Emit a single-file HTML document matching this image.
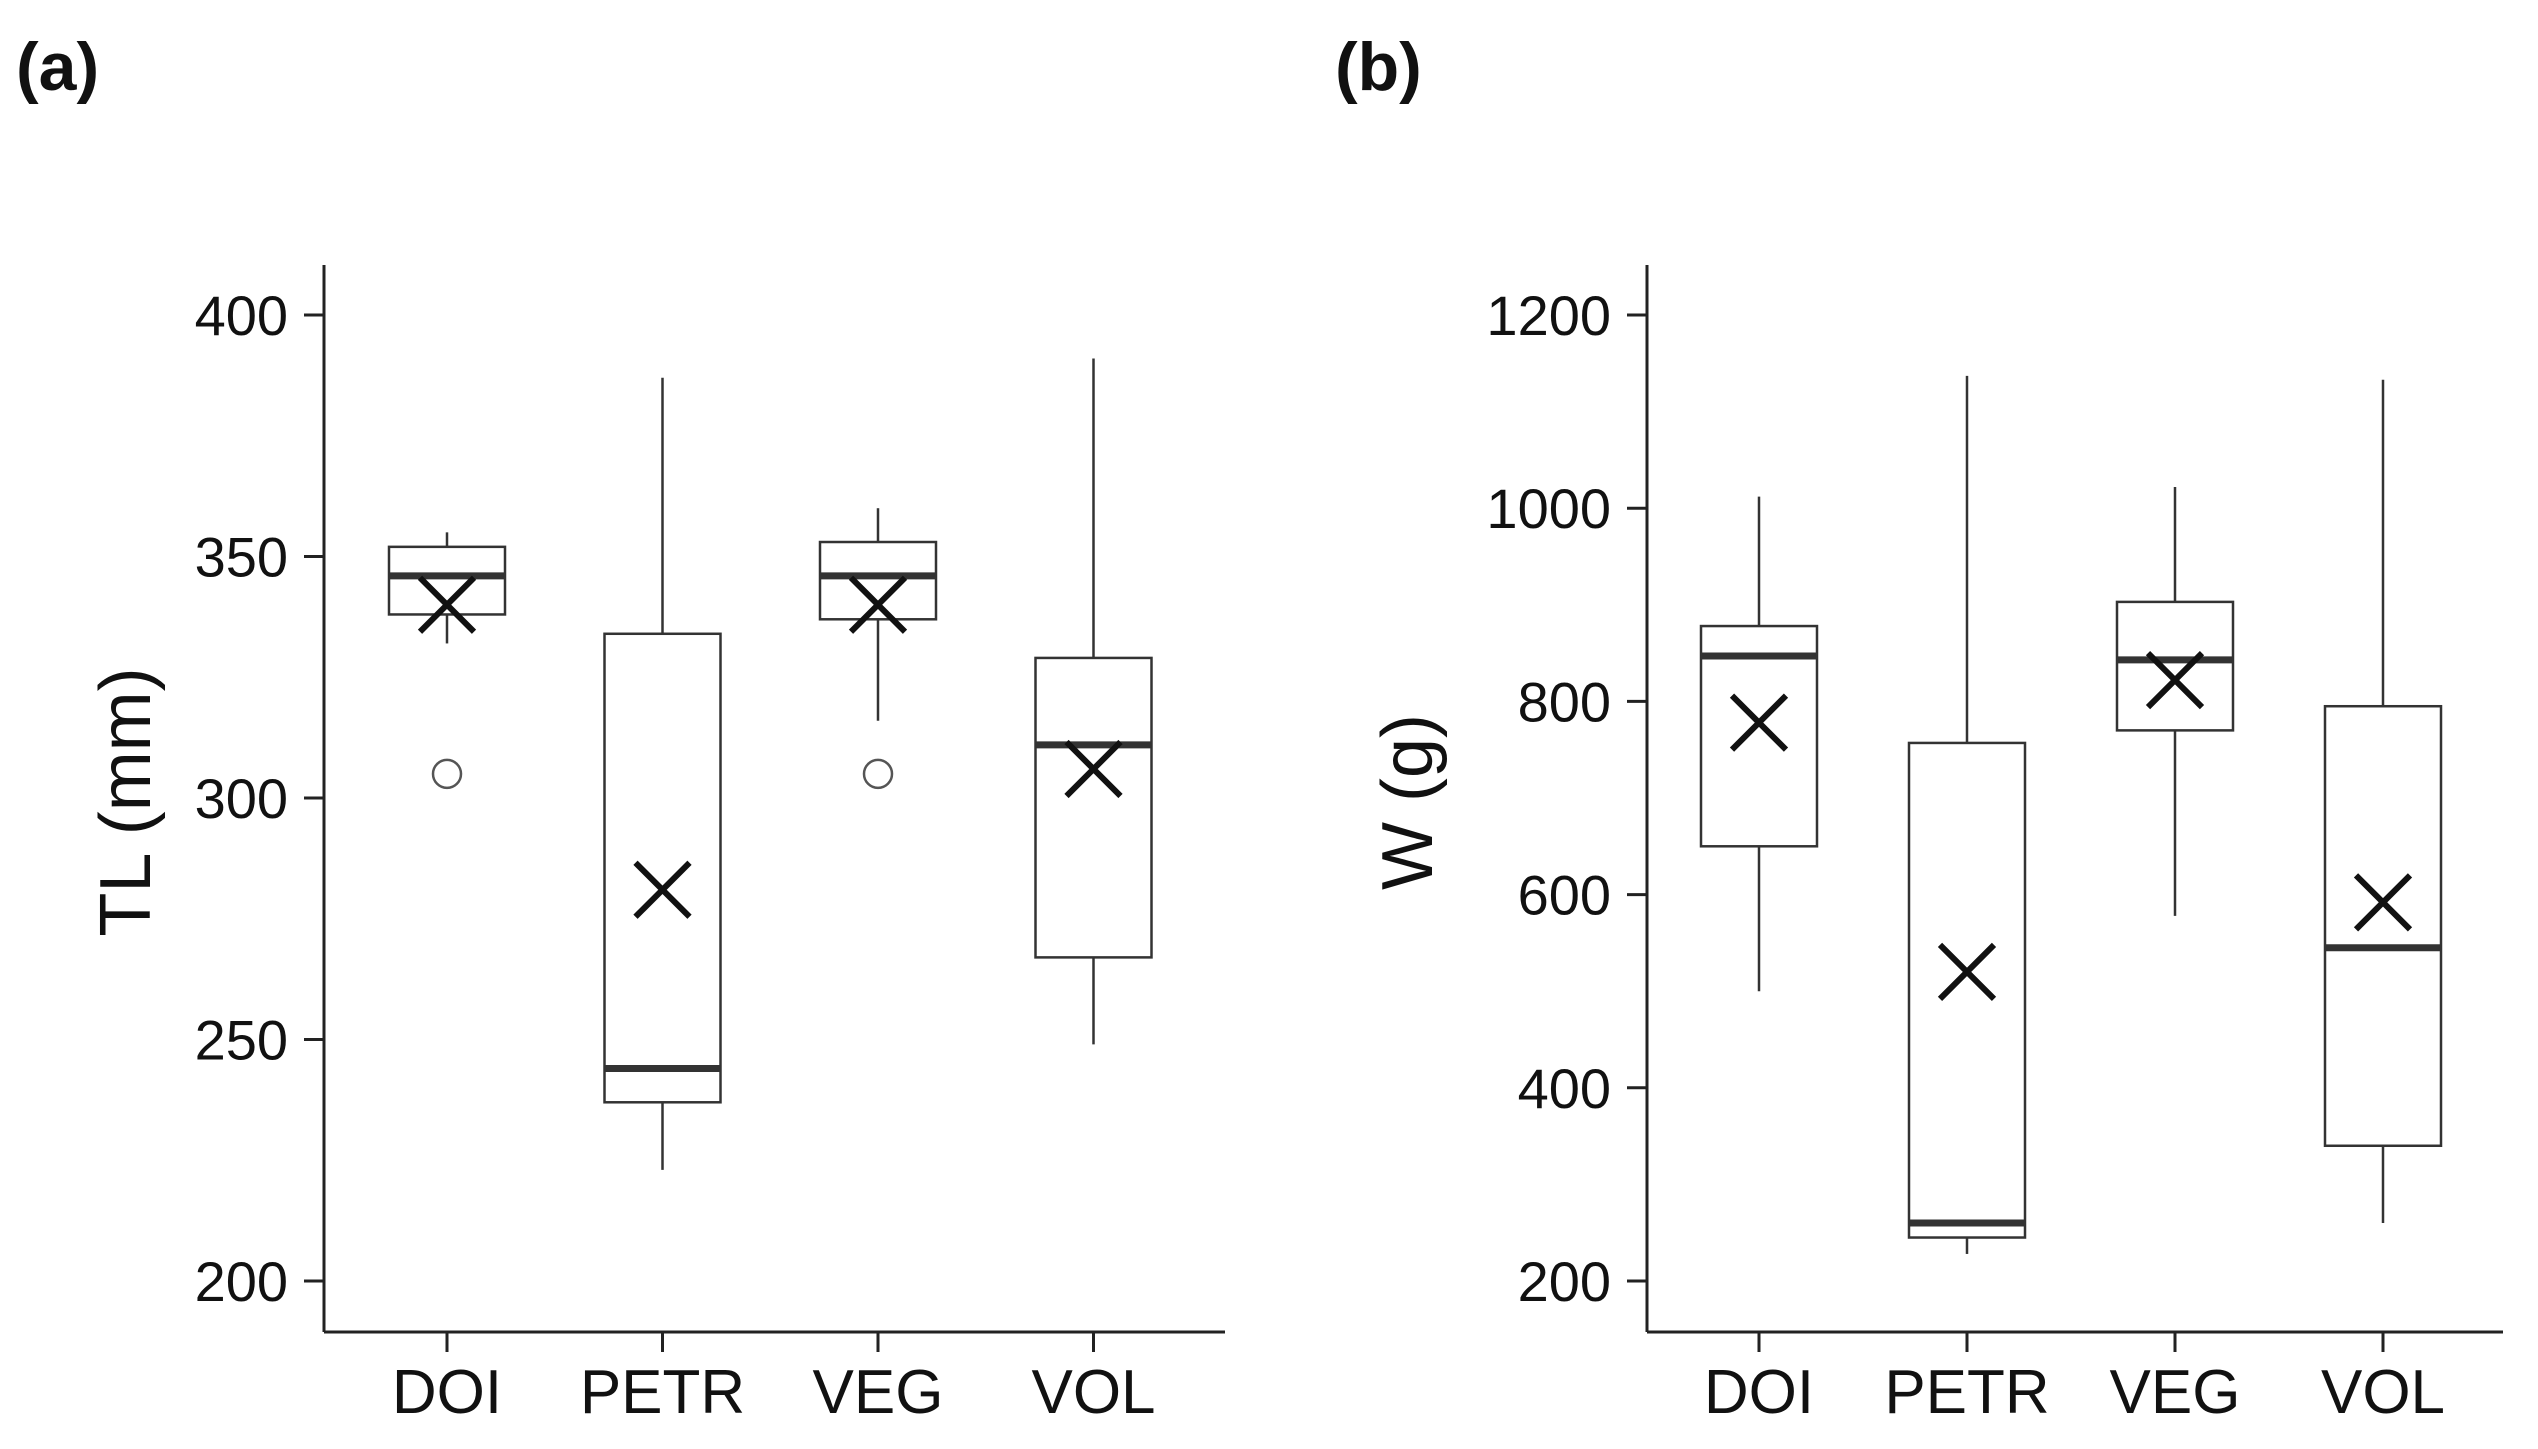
<!DOCTYPE html>
<html><head><meta charset="utf-8"><style>html,body{margin:0;padding:0;background:#fff}svg{display:block}text{font-family:"Liberation Sans",sans-serif;fill:#111}</style></head>
<body>
<svg id="c" width="2538" height="1449" viewBox="0 0 2538 1449"></svg>
<script>
const categories=["DOI","PETR","VEG","VOL"];
const tlMin=[332,223,316,249];
const tlQ1=[338,237,337,267];
const tlMed=[346,244,346,311];
const tlQ3=[352,334,353,329];
const tlMax=[355,387,360,391];
const tlMean=[340,281,340,306];
const tlOutliers=[[305],[],[305],[]];
const tlTicks=[200,250,300,350,400];
const wMin=[500,228,578,260];
const wQ1=[650,245,770,340];
const wMed=[847,260,843,545];
const wQ3=[878,757,903,795];
const wMax=[1012,1137,1022,1133];
const wMean=[778,520,822,592];
const wOutliers=[[],[],[],[]];
const wTicks=[200,400,600,800,1000,1200];
const NS="http://www.w3.org/2000/svg";
const svg=document.getElementById('c');
function mk(tag,attrs,parent,name){const e=document.createElementNS(NS,tag);for(const k in attrs)e.setAttribute(k,attrs[k]);


(parent||svg).appendChild(e);return e;}
function panel(o){
 const g=mk('g',{},svg,o.name);
 const y=v=>o.y0+(v-o.v0)*(o.y1-o.y0)/(o.v1-o.v0);
 const x=i=>o.xs0+i*o.xstep;
 mk('line',{x1:o.ax,y1:265,x2:o.ax,y2:1332,stroke:'#222','stroke-width':3},g,'y-axis-line');
 mk('line',{x1:o.ax,y1:1332,x2:o.axr,y2:1332,stroke:'#222','stroke-width':3},g,'x-axis-line');
 o.ticks.forEach(t=>{mk('line',{x1:o.ax-20,y1:y(t),x2:o.ax,y2:y(t),stroke:'#222','stroke-width':3},g,'y-tick');
  const tx=mk('text',{x:o.ax-36,y:y(t)+20,'font-size':56,'text-anchor':'end'},g,'y-tick-label');tx.textContent=t;});
 const tt=mk('text',{x:0,y:0,'font-size':72,'text-anchor':'middle',transform:`translate(${o.tx},802) rotate(-90)`},g,'y-axis-title');tt.textContent=o.title;
 const pl=mk('text',{x:o.plx,y:90,'font-size':68,'font-weight':'bold'},g,'panel-label');pl.textContent=o.label;
 const hw=58;
 categories.forEach((c,i)=>{const cx=x(i);
  mk('line',{x1:cx,y1:1332,x2:cx,y2:1352,stroke:'#222','stroke-width':3},g,'x-tick');
  const lt=mk('text',{x:cx,y:1413,'font-size':62,'text-anchor':'middle'},g,'x-tick-label');lt.textContent=c;
  mk('line',{x1:cx,y1:y(o.mx[i]),x2:cx,y2:y(o.q3[i]),stroke:'#333','stroke-width':2.5},g,'whisker-upper-'+c.toLowerCase());
  mk('line',{x1:cx,y1:y(o.q1[i]),x2:cx,y2:y(o.mn[i]),stroke:'#333','stroke-width':2.5},g,'whisker-lower-'+c.toLowerCase());
  mk('rect',{x:cx-hw,y:y(o.q3[i]),width:2*hw,height:y(o.q1[i])-y(o.q3[i]),fill:'#fff',stroke:'#333','stroke-width':2.5},g,'box-'+c.toLowerCase());
  mk('line',{x1:cx-hw,y1:y(o.md[i]),x2:cx+hw,y2:y(o.md[i]),stroke:'#333','stroke-width':7},g,'median-'+c.toLowerCase());
  const my=y(o.mean[i]),s=27;
  mk('path',{d:`M${cx-s},${my-s}L${cx+s},${my+s}M${cx-s},${my+s}L${cx+s},${my-s}`,stroke:'#111','stroke-width':6,fill:'none'},g,'mean-marker-'+c.toLowerCase());
  o.out[i].forEach(v=>mk('circle',{cx:cx,cy:y(v),r:14,fill:'none',stroke:'#555','stroke-width':2.5},g,'outlier-'+c.toLowerCase()));
 });
}
panel({name:'panel-a',ax:324,axr:1225,v0:200,v1:400,y0:1281,y1:315,xs0:447,xstep:215.5,ticks:tlTicks,title:'TL (mm)',tx:150,label:'(a)',plx:16,
 mn:tlMin,q1:tlQ1,md:tlMed,q3:tlQ3,mx:tlMax,mean:tlMean,out:tlOutliers});
panel({name:'panel-b',ax:1647,axr:2503,v0:200,v1:1200,y0:1281,y1:315,xs0:1759,xstep:208,ticks:wTicks,title:'W (g)',tx:1432,label:'(b)',plx:1335,
 mn:wMin,q1:wQ1,md:wMed,q3:wQ3,mx:wMax,mean:wMean,out:wOutliers});
</script>
</body></html>
